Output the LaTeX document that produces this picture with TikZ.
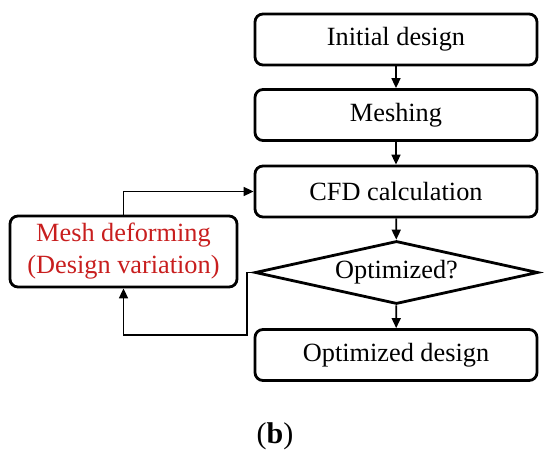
\documentclass[tikz,border=0pt]{standalone}
\usepackage{fontspec}
\setmainfont{Liberation Serif}
\usetikzlibrary{arrows.meta,shapes.geometric,calc}
\definecolor{mred}{RGB}{200,30,30}
\tikzset{
  box/.style={draw, line width=2.8pt, rounded corners=8pt, minimum width=282pt, minimum height=51pt, inner sep=0pt, align=center, font=\fontsize{26.3}{29}\selectfont},
  dec/.style={draw, line width=2.8pt, shape=diamond, aspect=4.5, minimum width=283pt, minimum height=63pt, inner sep=0pt, font=\fontsize{26.3}{29}\selectfont},
  conn/.style={line width=1.7pt, -{Triangle[length=10pt,width=9pt]}},
}
\begin{document}
\begin{tikzpicture}[x=1pt,y=-1pt]
\useasboundingbox (0,0) rectangle (550,462);
\node[box] (init) at (396,39.5) {Initial design};
\node[box] (mesh) at (396,115) {Meshing};
\node[box] (cfd) at (396,191.5) {CFD calculation};
\node[dec] (opt) at (396.5,272.5) {Optimized?};
\node[box] (final) at (396,355) {Optimized design};
\node[box, minimum width=227pt, minimum height=71pt, text=mred, font=\fontsize{26.3}{32}\selectfont] (def) at (123.5,251.5) {Mesh deforming\\(Design variation)};
\coordinate (fb) at (247,335);
\node[font=\fontsize{30}{32}\selectfont] (cap) at (275,436) {(\textbf{b})};
\draw[conn] (init) -- (mesh);
\draw[conn] (mesh) -- (cfd);
\draw[conn] (cfd) -- (opt);
\draw[conn] (opt) -- (final);
\draw[conn] (def.north) |- (cfd.west);
\draw[conn] (opt.west) -| (fb) -| (def.south);
\end{tikzpicture}
\end{document}
